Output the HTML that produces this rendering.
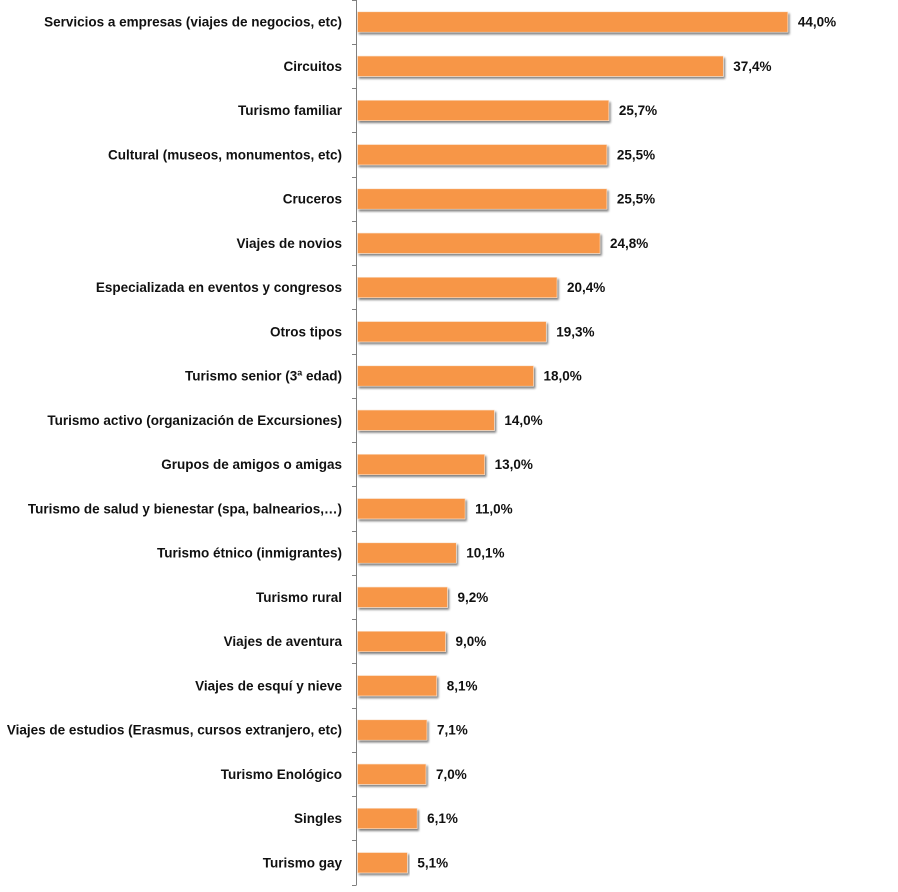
<!DOCTYPE html>
<html><head><meta charset="utf-8"><style>
html,body{margin:0;padding:0;background:#fff;}
svg{display:block;}
text{font-family:"Liberation Sans",sans-serif;font-weight:bold;font-size:13.5px;fill:#111;}
</style></head><body>
<svg width="898" height="892" viewBox="0 0 898 892" xmlns="http://www.w3.org/2000/svg">
<defs>
<filter id="sh" x="-5%" y="-30%" width="110%" height="180%">
<feGaussianBlur in="SourceAlpha" stdDeviation="1"/>
<feOffset dx="1.5" dy="1.8" result="b"/>
<feComponentTransfer><feFuncA type="linear" slope="0.5"/></feComponentTransfer>
<feMerge><feMergeNode/><feMergeNode in="SourceGraphic"/></feMerge>
</filter>
</defs>
<g id="bars"></g>
<line x1="356.5" y1="0" x2="356.5" y2="885" stroke="#7f7f7f" stroke-width="1"/>
<g id="ticks" stroke="#7f7f7f" stroke-width="1"></g>
<g id="labels"></g>
</svg>
<script>
var cats=["Servicios a empresas (viajes de negocios, etc)","Circuitos","Turismo familiar","Cultural (museos, monumentos, etc)","Cruceros","Viajes de novios","Especializada en eventos y congresos","Otros tipos","Turismo senior (3ª edad)","Turismo activo (organización de Excursiones)","Grupos de amigos o amigas","Turismo de salud y bienestar (spa, balnearios,…)","Turismo étnico (inmigrantes)","Turismo rural","Viajes de aventura","Viajes de esquí y nieve","Viajes de estudios (Erasmus, cursos extranjero, etc)","Turismo Enológico","Singles","Turismo gay"];
var vals=[44.0,37.4,25.7,25.5,25.5,24.8,20.4,19.3,18.0,14.0,13.0,11.0,10.1,9.2,9.0,8.1,7.1,7.0,6.1,5.1];
var ns="http://www.w3.org/2000/svg";
var gb=document.getElementById("bars"),gt=document.getElementById("ticks"),gl=document.getElementById("labels");
function el(n,a,p,t){var e=document.createElementNS(ns,n);for(var k in a)e.setAttribute(k,a[k]);if(t!==undefined)e.textContent=t;p.appendChild(e);return e;}
var x0=357.5,sc=9.78,step=44.25;
for(var i=0;i<=20;i++){var ty=Math.round(-0.5+step*i)+0.5;el("line",{x1:352,y1:ty,x2:356.5,y2:ty},gt);}
for(var i=0;i<cats.length;i++){
 var cy=22+step*i,w=vals[i]*sc;
 el("rect",{x:x0,y:cy-10.2,width:w,height:20.4,fill:"#F79646",stroke:"#fbe3cf","stroke-width":"0.6",filter:"url(#sh)"},gb);
 el("text",{x:342,y:cy+4.7,"text-anchor":"end"},gl,cats[i]);
 el("text",{x:x0+w+10,y:cy+4.7},gl,vals[i].toFixed(1).replace(".",",")+"%");
}
</script>
</body></html>
